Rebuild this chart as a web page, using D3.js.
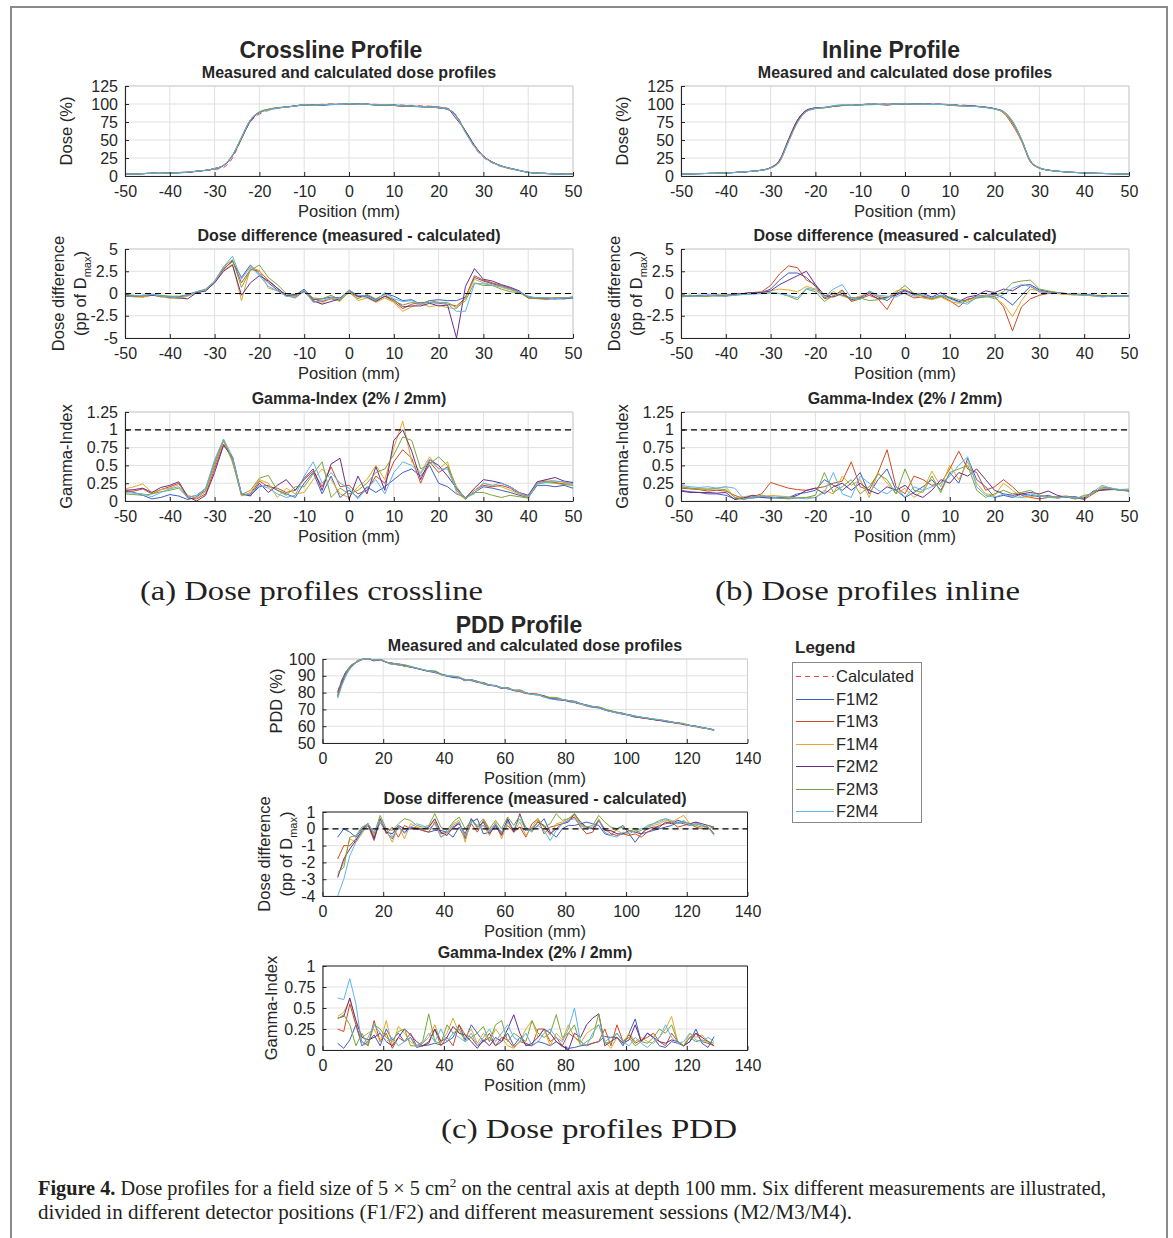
<!DOCTYPE html>
<html>
<head>
<meta charset="utf-8">
<script src="https://cdn.jsdelivr.net/npm/d3@7"></script>
<style>
  body { margin: 0; background: #fff; }
  svg text { font-family: "Liberation Sans", Arial, sans-serif; fill: #262626; }
  svg text.serif { font-family: "Liberation Serif", "Times New Roman", serif; fill: #231f20; }
</style>
</head>
<body>
<svg id="fig" width="1173" height="1238"></svg>
<script>
// ---- series ----
const seriesNames = ['F1M2', 'F1M3', 'F1M4', 'F2M2', 'F2M3', 'F2M4'];
const seriesColors = ['#3d5fc0', '#cf4a20', '#e2a925', '#6b2d8c', '#7ba53a', '#5db3ef'];
const calcColor = '#e8474a';

// ---- lateral profiles (positions in mm) ----
const profilePos = [-50, -48, -46, -44, -42, -40, -38, -36, -34, -32, -30, -28, -26, -24, -22, -20, -18, -16,
  -14, -12, -10, -8, -6, -4, -2, 0, 2, 4, 6, 8, 10, 12, 14, 16, 18, 20, 22, 24, 26, 28, 30, 32, 34, 36, 38,
  40, 42, 44, 46, 48, 50];

const crossCalc = [3, 3, 3.5, 4, 4, 4.5, 5, 5.5, 6.5, 7.5, 9, 12, 25, 52, 75, 86, 91, 94, 96, 97.5, 98.5,
  99, 99.5, 100, 100, 100, 100, 100, 99.5, 99, 99, 98.5, 98, 97.5, 97, 96, 94, 84, 62, 40, 26, 18, 13, 10,
  7.5, 5.5, 4.5, 4, 3.5, 3, 3];

// one row per position: F1M2, F1M3, F1M4, F2M2, F2M3, F2M4
const crossDiffRows = [
  [-0.2, -0.3, -0.2, -0.3, -0.1, -0.3], [-0.3, -0.3, -0.4, -0.3, -0.2, -0.3], [-0.3, -0.4, -0.4, -0.2, -0.3, -0.2],
  [-0.1, -0.2, -0.1, -0.2, -0.1, -0.1], [-0.3, -0.3, -0.4, -0.3, -0.2, -0.3], [-0.4, -0.5, -0.5, -0.4, -0.3, -0.4],
  [-0.4, -0.4, -0.6, -0.5, -0.3, -0.5], [-0.1, -0.2, -0.3, -0.6, -0.2, -0.2], [0.2, 0.1, 0.1, 0.1, 0.2, 0.2],
  [0.4, 0.3, 0.4, 0.3, 0.5, 0.4], [1.3, 1.2, 1.3, 1.2, 1.4, 1.3], [2.8, 2.7, 2.6, 2.5, 3.0, 3.0],
  [3.6, 3.7, 3.3, 3.2, 3.8, 4.2], [1.8, 1.2, -0.8, -0.2, 0.7, 1.6], [3.2, 2.7, 2.9, 1.2, 2.6, 3.0],
  [2.2, 2.5, 2.6, 2.0, 3.2, 2.0], [1.2, 1.5, 0.6, 1.4, 1.8, 0.8], [0.4, 0.6, 0.3, 0.6, 1.0, 0.3],
  [-0.3, -0.2, -0.3, -0.2, 0.0, -0.3], [-0.2, -0.5, -0.4, -0.1, -0.3, -0.4], [0.5, 0.3, 0.4, 0.2, 0.3, 0.4],
  [-0.7, -0.6, -0.9, -0.8, -0.5, -1.0], [-0.6, -0.9, -1.1, -1.2, -0.6, -0.8], [-0.4, -0.6, -0.5, -0.9, -0.2, -0.5],
  [-0.5, -0.8, -0.9, -0.6, -0.7, -0.6], [0.3, 0.2, 0.3, 0.4, 0.1, 0.4], [-0.3, -0.4, -0.8, -0.3, -0.6, -0.2],
  [-0.2, -0.3, -0.5, -0.4, -0.1, -0.3], [-0.7, -0.8, -1.0, -0.9, -0.6, -0.8], [0.0, -0.3, -0.5, -0.3, -0.1, 0.1],
  [-0.3, -0.9, -1.0, -0.7, -0.8, -0.6], [-0.8, -1.7, -2.0, -1.5, -1.3, -0.9], [-0.7, -1.2, -1.5, -1.4, -1.0, -0.8],
  [-1.2, -1.0, -1.1, -1.4, -1.2, -1.2], [-0.8, -1.0, -1.5, -1.1, -0.8, -1.0], [-0.7, -1.1, -1.3, -1.4, -1.0, -1.0],
  [-0.8, -1.2, -1.6, -1.3, -1.0, -1.2], [-0.8, -1.4, -1.7, -5.0, -1.6, -2.0], [-0.4, -0.5, -0.5, 0.8, -0.8, -2.0],
  [1.8, 2.0, 1.6, 2.8, 1.2, 1.1], [1.4, 1.5, 1.2, 1.6, 0.9, 1.1], [1.1, 1.2, 1.0, 1.4, 0.9, 0.9],
  [0.8, 0.9, 0.7, 1.0, 0.5, 0.8], [0.5, 0.6, 0.4, 0.7, 0.2, 0.5], [0.2, 0.2, 0.1, 0.3, 0.1, 0.2],
  [-0.4, -0.4, -0.5, -0.5, -0.4, -0.3], [-0.5, -0.5, -0.6, -0.5, -0.5, -0.5], [-0.5, -0.6, -0.7, -0.6, -0.5, -0.5],
  [-0.6, -0.5, -0.5, -0.6, -0.5, -0.6], [-0.5, -0.5, -0.6, -0.6, -0.5, -0.5], [-0.5, -0.4, -0.5, -0.5, -0.4, -0.5]
];

const crossGammaRows = [
  [0.15, 0.13, 0.17, 0.15, 0.10, 0.12], [0.12, 0.14, 0.20, 0.16, 0.09, 0.11], [0.08, 0.17, 0.24, 0.18, 0.08, 0.10],
  [0.03, 0.10, 0.12, 0.12, 0.10, 0.06], [0.05, 0.16, 0.16, 0.19, 0.13, 0.12], [0.09, 0.20, 0.18, 0.22, 0.15, 0.17],
  [0.07, 0.25, 0.23, 0.27, 0.18, 0.20], [0.02, 0.04, 0.08, 0.06, 0.05, 0.05], [0.06, 0.03, 0.04, 0.00, 0.08, 0.08],
  [0.15, 0.10, 0.13, 0.08, 0.17, 0.18], [0.50, 0.45, 0.52, 0.40, 0.55, 0.58], [0.85, 0.80, 0.84, 0.78, 0.86, 0.87],
  [0.55, 0.60, 0.55, 0.62, 0.58, 0.62], [0.10, 0.08, 0.07, 0.10, 0.09, 0.10], [0.08, 0.10, 0.12, 0.07, 0.15, 0.09],
  [0.20, 0.28, 0.30, 0.25, 0.32, 0.22], [0.22, 0.20, 0.25, 0.12, 0.36, 0.18], [0.15, 0.18, 0.05, 0.22, 0.15, 0.10],
  [0.10, 0.12, 0.18, 0.30, 0.08, 0.05], [0.05, 0.15, 0.10, 0.15, 0.20, 0.08], [0.25, 0.30, 0.12, 0.32, 0.20, 0.35],
  [0.40, 0.42, 0.30, 0.45, 0.38, 0.55], [0.10, 0.20, 0.45, 0.15, 0.55, 0.25], [0.35, 0.48, 0.30, 0.52, 0.05, 0.40],
  [0.05, 0.20, 0.10, 0.60, 0.18, 0.25], [0.15, 0.22, 0.05, 0.02, 0.10, 0.18], [0.05, 0.10, 0.20, 0.35, 0.15, 0.03],
  [0.20, 0.15, 0.30, 0.10, 0.25, 0.18], [0.12, 0.35, 0.50, 0.48, 0.40, 0.30], [0.20, 0.25, 0.30, 0.15, 0.45, 0.10],
  [0.30, 0.55, 0.75, 0.85, 0.65, 0.40], [0.40, 0.72, 1.12, 1.00, 0.90, 0.55], [0.45, 0.60, 0.55, 0.70, 0.85, 0.50],
  [0.35, 0.25, 0.40, 0.30, 0.45, 0.38], [0.50, 0.55, 0.62, 0.58, 0.52, 0.58], [0.25, 0.40, 0.45, 0.50, 0.62, 0.45],
  [0.20, 0.48, 0.55, 0.35, 0.50, 0.45], [0.10, 0.15, 0.12, 0.18, 0.20, 0.15], [0.05, 0.03, 0.02, 0.04, 0.03, 0.05],
  [0.12, 0.15, 0.15, 0.18, 0.12, 0.10], [0.20, 0.22, 0.25, 0.30, 0.12, 0.25], [0.18, 0.20, 0.22, 0.28, 0.08, 0.22],
  [0.15, 0.22, 0.20, 0.25, 0.05, 0.25], [0.12, 0.18, 0.15, 0.20, 0.08, 0.20], [0.08, 0.10, 0.10, 0.12, 0.06, 0.12],
  [0.05, 0.06, 0.05, 0.08, 0.04, 0.06], [0.22, 0.26, 0.25, 0.27, 0.24, 0.25], [0.22, 0.28, 0.30, 0.30, 0.26, 0.27],
  [0.20, 0.26, 0.28, 0.33, 0.25, 0.28], [0.22, 0.24, 0.26, 0.28, 0.23, 0.27], [0.18, 0.24, 0.25, 0.26, 0.22, 0.24]
];

const inlineCalc = [3, 3.2, 3.5, 3.8, 4.1, 4.5, 5, 5.7, 6.6, 8, 11, 20, 48, 75, 89, 93.5, 95.5, 97, 98, 98.8,
  99.3, 99.7, 100, 100, 100, 100, 100, 100, 100, 99.7, 99.3, 98.8, 98, 97, 95.5, 93.5, 89, 75, 50, 20, 11, 8,
  6.6, 5.7, 5, 4.5, 4.1, 3.8, 3.5, 3.2, 3];

const inlineDiffRows = [
  [-0.3, -0.3, -0.4, -0.3, -0.3, -0.3], [-0.3, -0.2, -0.3, -0.3, -0.2, -0.3], [-0.3, -0.3, -0.3, -0.2, -0.3, -0.3],
  [-0.2, -0.3, -0.2, -0.2, -0.3, -0.2], [-0.2, -0.2, -0.3, -0.2, -0.2, -0.3], [-0.2, -0.2, -0.2, -0.3, -0.2, -0.3],
  [-0.1, -0.1, -0.2, -0.1, -0.2, -0.2], [0.0, 0.0, -0.1, 0.0, 0.0, -0.1], [0.1, 0.1, 0.0, 0.1, 0.0, -0.1],
  [0.1, 0.2, 0.1, 0.1, 0.0, 0.0], [0.5, 0.9, 0.3, 0.3, 0.1, 0.1], [1.5, 2.2, 0.5, 1.0, 0.0, 0.0],
  [2.3, 3.1, 0.4, 1.5, -0.3, -0.2], [2.3, 2.9, 0.2, 2.0, -0.7, -0.5], [1.8, 1.5, 0.8, 2.5, 0.5, 0.6],
  [0.8, 1.0, 0.5, 1.0, 0.2, 0.4], [-0.5, -0.6, -0.3, -0.2, -0.9, -0.4], [0.0, -0.3, 0.2, -0.4, -0.2, 0.5],
  [-0.2, 0.4, -0.3, 0.0, 0.2, 1.0], [-0.5, -0.9, -0.6, -0.7, -0.8, -0.5], [-0.4, -0.6, -0.3, -0.5, -0.5, -0.7],
  [0.2, -0.2, 0.1, 0.0, -0.8, 0.3], [-0.4, -0.6, -0.3, -0.6, -0.7, -0.2], [-0.8, -1.8, -0.5, -0.4, -0.5, -0.3],
  [0.0, 0.0, 0.3, -0.2, 0.1, -0.4], [0.4, 0.0, 0.5, 0.3, 0.9, 0.1], [0.0, -0.5, -0.2, -0.1, 0.0, -0.3],
  [-0.3, -0.4, -0.5, 0.0, -0.2, -0.2], [-0.5, -0.6, -0.7, -0.4, -0.6, -0.5], [-0.2, -0.3, -0.4, 0.1, -0.3, -0.2],
  [-0.5, -0.8, -0.9, -0.5, -0.4, -0.6], [-0.9, -1.5, -1.1, -0.9, -0.7, -1.0], [-0.7, -0.6, -0.8, -0.4, -1.0, -1.2],
  [-0.3, -0.5, -0.4, -0.2, -0.5, -0.4], [-0.2, -0.3, -0.2, 0.3, -0.4, -0.3], [-0.1, -0.3, -0.5, 0.1, -0.3, -0.6],
  [-0.5, -1.5, -1.2, 0.5, 0.2, -0.1], [-1.3, -4.2, -2.6, 0.3, 1.2, 0.6], [-0.2, -1.5, -0.8, 0.9, 1.4, 1.0],
  [0.8, -0.6, 0.5, 1.0, 1.5, 0.8], [0.2, -0.2, 0.3, 0.4, 0.5, 0.3], [0.1, 0.0, 0.1, 0.2, 0.3, 0.1],
  [0.0, 0.0, 0.0, 0.1, 0.1, 0.0], [0.0, -0.1, -0.1, 0.0, 0.0, 0.0], [-0.1, -0.1, -0.2, -0.1, -0.1, -0.1],
  [-0.1, -0.1, -0.1, -0.2, -0.1, -0.2], [-0.2, -0.2, -0.2, -0.2, -0.3, -0.2], [-0.3, -0.3, -0.2, -0.3, -0.3, -0.4],
  [-0.3, -0.3, -0.3, -0.3, -0.2, -0.3], [-0.3, -0.3, -0.3, -0.3, -0.3, -0.3], [-0.3, -0.3, -0.3, -0.3, -0.3, -0.3]
];

const inlineGammaRows = [
  [0.15, 0.18, 0.20, 0.14, 0.20, 0.22], [0.13, 0.17, 0.18, 0.12, 0.18, 0.20], [0.12, 0.16, 0.17, 0.12, 0.17, 0.19],
  [0.10, 0.14, 0.16, 0.12, 0.17, 0.20], [0.10, 0.15, 0.18, 0.11, 0.17, 0.18], [0.08, 0.14, 0.20, 0.12, 0.16, 0.20],
  [0.03, 0.08, 0.05, 0.02, 0.05, 0.18], [0.05, 0.03, 0.06, 0.04, 0.02, 0.03], [0.04, 0.06, 0.08, 0.08, 0.05, 0.05],
  [0.06, 0.10, 0.05, 0.05, 0.08, 0.07], [0.05, 0.26, 0.08, 0.04, 0.06, 0.05], [0.04, 0.22, 0.07, 0.05, 0.04, 0.06],
  [0.05, 0.18, 0.06, 0.04, 0.03, 0.05], [0.10, 0.16, 0.05, 0.08, 0.04, 0.04], [0.12, 0.15, 0.05, 0.15, 0.05, 0.03],
  [0.15, 0.18, 0.05, 0.18, 0.08, 0.05], [0.30, 0.20, 0.15, 0.10, 0.40, 0.12], [0.22, 0.25, 0.10, 0.20, 0.12, 0.40],
  [0.15, 0.28, 0.35, 0.25, 0.20, 0.10], [0.25, 0.55, 0.22, 0.15, 0.30, 0.05], [0.40, 0.20, 0.30, 0.25, 0.10, 0.35],
  [0.10, 0.15, 0.05, 0.15, 0.20, 0.25], [0.30, 0.40, 0.40, 0.10, 0.38, 0.15], [0.45, 0.72, 0.25, 0.20, 0.30, 0.10],
  [0.15, 0.20, 0.10, 0.15, 0.10, 0.20], [0.05, 0.10, 0.18, 0.22, 0.45, 0.05], [0.12, 0.35, 0.05, 0.10, 0.15, 0.20],
  [0.20, 0.30, 0.15, 0.05, 0.12, 0.15], [0.30, 0.22, 0.42, 0.15, 0.35, 0.20], [0.15, 0.25, 0.20, 0.30, 0.12, 0.25],
  [0.40, 0.45, 0.50, 0.25, 0.40, 0.35], [0.25, 0.70, 0.30, 0.40, 0.45, 0.50], [0.60, 0.45, 0.55, 0.35, 0.50, 0.62],
  [0.30, 0.40, 0.25, 0.45, 0.15, 0.20], [0.20, 0.15, 0.10, 0.30, 0.05, 0.08], [0.05, 0.20, 0.08, 0.15, 0.10, 0.05],
  [0.08, 0.30, 0.25, 0.10, 0.15, 0.10], [0.05, 0.20, 0.15, 0.08, 0.10, 0.06], [0.10, 0.08, 0.05, 0.10, 0.12, 0.05],
  [0.08, 0.05, 0.06, 0.12, 0.15, 0.10], [0.06, 0.03, 0.08, 0.10, 0.08, 0.07], [0.08, 0.05, 0.06, 0.14, 0.06, 0.05],
  [0.04, 0.06, 0.05, 0.08, 0.05, 0.04], [0.06, 0.07, 0.05, 0.05, 0.06, 0.06], [0.03, 0.05, 0.04, 0.06, 0.03, 0.05],
  [0.05, 0.02, 0.06, 0.03, 0.08, 0.04], [0.12, 0.10, 0.12, 0.14, 0.10, 0.13], [0.16, 0.18, 0.18, 0.15, 0.20, 0.22],
  [0.17, 0.18, 0.18, 0.16, 0.17, 0.18], [0.15, 0.15, 0.16, 0.16, 0.15, 0.16], [0.14, 0.15, 0.17, 0.14, 0.15, 0.16]
];

// ---- PDD (depth in mm) ----
const pddPos = [5, 7, 9, 11, 13, 15, 17, 19, 21, 23, 25, 27, 29, 31, 33, 35, 37, 39, 41, 43,
  45, 47, 49, 51, 53, 55, 57, 59, 61, 63, 65, 67, 69, 71, 73, 75, 77, 79, 81, 83,
  85, 87, 89, 91, 93, 95, 97, 99, 101, 103, 105, 107, 109, 111, 113, 115, 117, 119, 121, 123,
  125, 127, 129];

const pddCalc = [80.5, 90.0, 95.5, 98.5, 99.8, 100.0, 99.6, 99.0, 98.3, 97.5,
  96.8, 96.0, 95.2, 94.4, 93.6, 92.8, 92.0, 91.1, 90.2, 89.4,
  88.6, 87.8, 87.0, 86.2, 85.4, 84.6, 83.8, 83.0, 82.2, 81.4,
  80.6, 79.9, 79.1, 78.4, 77.6, 76.9, 76.2, 75.5, 74.7, 73.9,
  73.1, 72.3, 71.5, 70.7, 69.9, 69.1, 68.3, 67.5, 66.8, 66.1,
  65.4, 64.7, 64.0, 63.4, 62.7, 62.1, 61.5, 60.9, 60.2, 59.6,
  59.0, 58.4, 57.8];

const pddDiffF1M2 = [-0.5, 0.0, -0.2, -0.5, 0.0, 0.3, -0.5, 0.4, -0.2, -0.6,
  0.1, -0.2, 0.1, 0.0, -0.1, -0.2, -0.1, -0.1, -0.2, -0.5,
  0.1, -0.6, 0.4, 0.6, -0.3, -0.2, 0.1, -0.2, 0.5, -0.1,
  0.1, -0.1, -0.1, 0.2, 0.6, -0.2, -0.5, 0.0, 0.2, 0.2,
  0.3, 0.4, 0.3, 0.2, -0.3, -0.4, 0.0, 0.2, -0.3, -0.8,
  -0.3, -0.2, -0.1, 0.0, 0.1, 0.2, 0.4, 0.3, 0.2, 0.3,
  0.2, 0.1, -0.3];
const pddDiffF1M3 = [-1.8, -1.0, -1.0, -0.6, -0.2, 0.2, -0.7, 0.6, -0.3, 0.1,
  -0.5, 0.2, 0.0, 0.1, -0.1, -0.2, 0.4, -0.3, -0.2, 0.0,
  0.4, -0.5, 0.3, -0.2, 0.5, -0.1, 0.3, -0.3, 0.2, -0.2,
  0.1, -0.5, 0.3, 0.6, -0.3, 0.1, 0.2, 0.3, 0.5, 0.7,
  0.1, -0.3, -0.2, 0.5, 0.0, -0.3, -0.4, -0.3, -0.4, -0.3,
  -0.5, -0.2, 0.0, 0.2, 0.3, 0.4, 0.1, 0.2, 0.3, 0.1,
  0.0, 0.1, -0.3];
const pddDiffF1M4 = [-2.8, -2.0, -0.6, -0.8, -0.3, 0.3, -0.4, 0.4, -0.1, -0.8,
  0.2, -0.6, 0.3, 0.1, 0.0, 0.1, 0.5, -0.5, -0.3, 0.3,
  0.5, -0.8, 0.6, 0.0, 0.2, -0.4, 0.4, -0.6, 0.4, -0.2,
  0.4, -0.4, 0.1, 0.6, 0.1, -0.4, 0.3, 0.4, 0.6, 0.8,
  0.2, 0.1, 0.0, 0.6, -0.1, -0.2, -0.1, -0.3, -0.2, 0.0,
  -0.3, 0.1, 0.2, 0.3, 0.5, 0.4, 0.6, 0.8, 0.3, 0.4,
  0.2, 0.0, 0.1];
const pddDiffF2M2 = [-2.9, -1.8, -1.2, -0.7, -0.1, 0.3, -0.6, 0.6, -0.2, -0.3,
  0.2, 0.0, 0.0, 0.0, 0.0, 0.1, 0.6, -0.2, -0.4, 0.1,
  0.3, -0.3, 0.6, 0.1, 0.4, -0.3, 0.2, -0.4, 0.6, -0.2,
  0.9, -0.1, 0.0, 0.4, 0.2, -0.3, 0.0, 0.3, 0.4, 0.9,
  0.4, 0.1, 0.0, 0.5, -0.1, -0.1, -0.3, -0.3, -0.1, -0.2,
  -0.3, 0.0, 0.1, 0.1, 0.4, 0.3, 0.5, 0.4, 0.3, 0.4,
  0.3, 0.2, 0.1];
const pddDiffF2M3 = [-2.6, -2.3, -0.5, -0.4, 0.1, 0.3, -0.3, 0.8, 0.0, -0.1,
  0.3, 0.6, 0.5, 0.2, 0.1, 0.2, 0.9, 0.1, -0.1, 0.4,
  0.7, 0.0, 0.5, 0.2, 0.6, 0.0, 0.5, 0.0, 0.7, 0.2,
  0.8, 0.1, -0.2, 0.5, 0.1, 0.3, 0.9, 0.5, 0.6, 0.9,
  0.3, 0.1, 0.2, 0.8, 0.4, 0.1, 0.0, 0.1, -0.1, -0.2,
  -0.1, 0.2, 0.3, 0.5, 0.6, 0.4, 0.3, 0.4, 0.3, 0.2,
  0.1, 0.2, 0.0];
const pddDiffF2M4 = [-4.0, -3.0, -1.6, -0.8, -0.2, 0.3, -0.2, 0.5, 0.0, -0.5,
  0.2, -0.3, 0.1, 0.3, 0.2, 0.0, 0.3, -0.5, -0.2, 0.2,
  0.4, -0.4, 0.5, 0.1, 0.2, -0.2, 0.3, -0.2, 0.4, 0.0,
  0.6, -0.1, -0.1, 0.2, -0.1, -0.7, -0.1, 0.3, 0.5, 0.6,
  0.2, 0.0, 0.1, 0.5, -0.2, -0.4, -0.5, -0.2, -0.3, -0.1,
  0.0, 0.1, 0.3, 0.4, 0.6, 0.5, 0.3, 0.5, 0.2, 0.3,
  0.2, 0.1, -0.4];

const pddGammaF1M2 = [0.08, 0.02, 0.12, 0.30, 0.05, 0.10, 0.18, 0.05, 0.25, 0.12,
  0.20, 0.10, 0.15, 0.03, 0.05, 0.06, 0.08, 0.06, 0.10, 0.15,
  0.30, 0.12, 0.30, 0.20, 0.10, 0.15, 0.05, 0.10, 0.20, 0.05,
  0.15, 0.06, 0.05, 0.10, 0.08, 0.05, 0.10, 0.04, 0.02, 0.03,
  0.05, 0.06, 0.08, 0.10, 0.16, 0.15, 0.15, 0.05, 0.20, 0.37,
  0.10, 0.20, 0.15, 0.05, 0.03, 0.10, 0.08, 0.05, 0.10, 0.25,
  0.08, 0.03, 0.16];
const pddGammaF1M3 = [0.25, 0.22, 0.55, 0.30, 0.10, 0.05, 0.35, 0.10, 0.20, 0.02,
  0.15, 0.10, 0.20, 0.05, 0.05, 0.10, 0.25, 0.05, 0.15, 0.05,
  0.30, 0.18, 0.15, 0.05, 0.10, 0.20, 0.05, 0.15, 0.12, 0.03,
  0.10, 0.08, 0.05, 0.25, 0.25, 0.10, 0.15, 0.05, 0.20, 0.15,
  0.10, 0.05, 0.08, 0.10, 0.25, 0.05, 0.30, 0.10, 0.18, 0.08,
  0.12, 0.15, 0.20, 0.10, 0.05, 0.20, 0.10, 0.05, 0.15, 0.20,
  0.10, 0.08, 0.05];
const pddGammaF1M4 = [0.40, 0.45, 0.60, 0.35, 0.15, 0.20, 0.25, 0.10, 0.35, 0.05,
  0.28, 0.20, 0.10, 0.05, 0.08, 0.15, 0.30, 0.10, 0.20, 0.38,
  0.20, 0.15, 0.25, 0.08, 0.20, 0.10, 0.25, 0.15, 0.05, 0.02,
  0.10, 0.25, 0.35, 0.15, 0.25, 0.05, 0.20, 0.12, 0.30, 0.15,
  0.08, 0.20, 0.25, 0.30, 0.10, 0.02, 0.15, 0.08, 0.20, 0.10,
  0.15, 0.10, 0.08, 0.15, 0.25, 0.40, 0.10, 0.05, 0.20, 0.15,
  0.18, 0.10, 0.05];
const pddGammaF2M2 = [0.38, 0.40, 0.62, 0.35, 0.15, 0.12, 0.15, 0.20, 0.10, 0.05,
  0.15, 0.25, 0.18, 0.10, 0.05, 0.08, 0.25, 0.10, 0.15, 0.28,
  0.20, 0.18, 0.10, 0.02, 0.12, 0.05, 0.15, 0.10, 0.25, 0.42,
  0.20, 0.05, 0.08, 0.15, 0.25, 0.20, 0.10, 0.05, 0.00, 0.20,
  0.15, 0.30, 0.38, 0.43, 0.05, 0.10, 0.15, 0.08, 0.12, 0.30,
  0.10, 0.20, 0.15, 0.10, 0.08, 0.12, 0.10, 0.05, 0.10, 0.20,
  0.15, 0.10, 0.05];
const pddGammaF2M3 = [0.37, 0.42, 0.30, 0.05, 0.20, 0.05, 0.30, 0.25, 0.15, 0.10,
  0.22, 0.25, 0.05, 0.05, 0.10, 0.43, 0.10, 0.08, 0.30, 0.20,
  0.25, 0.10, 0.15, 0.20, 0.28, 0.10, 0.30, 0.35, 0.10, 0.20,
  0.15, 0.10, 0.35, 0.20, 0.15, 0.20, 0.42, 0.15, 0.20, 0.30,
  0.05, 0.10, 0.15, 0.43, 0.08, 0.10, 0.20, 0.10, 0.15, 0.05,
  0.10, 0.08, 0.15, 0.25, 0.20, 0.30, 0.10, 0.05, 0.15, 0.10,
  0.12, 0.10, 0.08];
const pddGammaF2M4 = [0.62, 0.60, 0.85, 0.55, 0.05, 0.15, 0.30, 0.20, 0.10, 0.15,
  0.05, 0.10, 0.15, 0.05, 0.08, 0.20, 0.10, 0.25, 0.10, 0.20,
  0.15, 0.10, 0.20, 0.05, 0.15, 0.25, 0.10, 0.20, 0.30, 0.15,
  0.10, 0.20, 0.05, 0.10, 0.20, 0.25, 0.15, 0.10, 0.25, 0.50,
  0.10, 0.05, 0.20, 0.30, 0.10, 0.15, 0.20, 0.10, 0.05, 0.15,
  0.08, 0.03, 0.10, 0.15, 0.30, 0.15, 0.08, 0.10, 0.20, 0.12,
  0.10, 0.15, 0.10];

// ---- ticks ----
const profileXTicks = [-50, -40, -30, -20, -10, 0, 10, 20, 30, 40, 50];
const pddXTicks = [0, 20, 40, 60, 80, 100, 120, 140];
const doseYTicks = [0, 25, 50, 75, 100, 125];
const diffYTicks = [-5, -2.5, 0, 2.5, 5];
const gammaYTicks = [0, 0.25, 0.5, 0.75, 1, 1.25];
const pddYTicks = [50, 60, 70, 80, 90, 100];
const pddDiffYTicks = [-4, -3, -2, -1, 0, 1];
const pddGammaYTicks = [0, 0.25, 0.5, 0.75, 1];

// ---- helpers to build point lists ----
const pts = (xs, ys) => xs.slice(0, Math.min(xs.length, ys.length)).map((x, i) => [x, ys[i]]);
const fromRows = (xs, rows) => seriesNames.map((_, k) => pts(xs, rows.map(r => r[k])));
const measured = (xs, calc, diffSeries) => diffSeries.map(s => s.map((p, i) => [p[0], calc[i] + p[1]]));

const crossDiff = fromRows(profilePos, crossDiffRows);
const inlineDiff = fromRows(profilePos, inlineDiffRows);
const pddDiff = [pddDiffF1M2, pddDiffF1M3, pddDiffF1M4, pddDiffF2M2, pddDiffF2M3, pddDiffF2M4].map(d => pts(pddPos, d));
const pddGamma = [pddGammaF1M2, pddGammaF1M3, pddGammaF1M4, pddGammaF2M2, pddGammaF2M3, pddGammaF2M4].map(d => pts(pddPos, d));

const svg = d3.select('#fig');

// figure frame
svg.append('rect')
  .attr('x', 11).attr('y', 7).attr('width', 1156).attr('height', 1260)
  .attr('fill', 'none').attr('stroke', '#8a8a8a').attr('stroke-width', 2);

let clipCount = 0;

function dmaxLabel(t) {
  t.append('tspan').text('(pp of D');
  t.append('tspan').attr('font-size', 11).attr('dy', 5).text('max');
  t.append('tspan').attr('dy', -5).text(')');
}

function drawPanel(cfg) {
  const g = svg.append('g');
  const x = d3.scaleLinear().domain(cfg.xDomain).range([cfg.left, cfg.right]);
  const y = d3.scaleLinear().domain(cfg.yDomain).range([cfg.bottom, cfg.top]);

  // grid
  g.append('g').selectAll('line').data(cfg.xTicks).join('line')
    .attr('x1', d => x(d)).attr('x2', d => x(d))
    .attr('y1', cfg.top).attr('y2', cfg.bottom)
    .attr('stroke', '#e1e1e1');
  g.append('g').selectAll('line').data(cfg.yTicks).join('line')
    .attr('x1', cfg.left).attr('x2', cfg.right)
    .attr('y1', d => y(d)).attr('y2', d => y(d))
    .attr('stroke', '#e1e1e1');

  // top / right edges
  g.append('path')
    .attr('d', `M${cfg.left},${cfg.top}H${cfg.right}V${cfg.bottom}`)
    .attr('fill', 'none')
    .attr('stroke', cfg.boxBlack ? '#262626' : '#cfcfcf');

  const id = 'clip' + (clipCount++);
  svg.append('clipPath').attr('id', id).append('rect')
    .attr('x', cfg.left).attr('y', cfg.top - 1)
    .attr('width', cfg.right - cfg.left).attr('height', cfg.bottom - cfg.top + 2);
  const plot = g.append('g').attr('clip-path', `url(#${id})`);

  const line = d3.line().x(d => x(d[0])).y(d => y(d[1])).curve(cfg.curve || d3.curveLinear);

  if (cfg.calc) {
    plot.append('path').datum(cfg.calc).attr('d', line)
      .attr('fill', 'none').attr('stroke', calcColor)
      .attr('stroke-width', 1).attr('stroke-dasharray', '5,4');
  }
  cfg.series.forEach((s, i) => {
    plot.append('path').datum(s).attr('d', line)
      .attr('fill', 'none').attr('stroke', seriesColors[i])
      .attr('stroke-width', 1).attr('stroke-linejoin', 'round');
  });
  if (cfg.refLine !== undefined) {
    plot.append('line')
      .attr('x1', cfg.left).attr('x2', cfg.right)
      .attr('y1', y(cfg.refLine)).attr('y2', y(cfg.refLine))
      .attr('stroke', '#000').attr('stroke-width', 1.2).attr('stroke-dasharray', '6,4');
  }

  // axes
  const xAxis = g.append('g')
    .attr('transform', `translate(0,${cfg.bottom})`)
    .call(d3.axisBottom(x).tickValues(cfg.xTicks).tickFormat(d => String(d))
      .tickSizeInner(-4).tickSizeOuter(0).tickPadding(10));
  const yAxis = g.append('g')
    .attr('transform', `translate(${cfg.left},0)`)
    .call(d3.axisLeft(y).tickValues(cfg.yTicks).tickFormat(d => String(d))
      .tickSizeInner(-4).tickSizeOuter(0).tickPadding(7));
  [xAxis, yAxis].forEach(a => {
    a.attr('color', '#262626').attr('font-size', 16).attr('font-family', null);
    a.select('.domain').attr('stroke-width', 1.1);
  });

  const cx = (cfg.left + cfg.right) / 2;
  g.append('text').attr('x', cx).attr('y', cfg.top - 8)
    .attr('text-anchor', 'middle').attr('font-weight', 'bold').attr('font-size', 16)
    .text(cfg.title);
  g.append('text').attr('x', cx).attr('y', cfg.bottom + 41)
    .attr('text-anchor', 'middle').attr('font-size', 16.5)
    .text('Position (mm)');

  const cy = (cfg.top + cfg.bottom) / 2;
  cfg.ylabel.forEach((lab, k) => {
    const t = g.append('text')
      .attr('transform', `translate(${cfg.ylabelX[k]},${cy}) rotate(-90)`)
      .attr('text-anchor', 'middle').attr('dy', '0.35em').attr('font-size', 16.5);
    if (typeof lab === 'string') t.text(lab); else lab(t);
  });
}

function profileGroup(opts) {
  const L = opts.left, R = opts.left + 448;
  svg.append('text').attr('x', opts.titleX).attr('y', 57.5)
    .attr('text-anchor', 'middle').attr('font-weight', 'bold').attr('font-size', 23)
    .text(opts.name);
  drawPanel({
    left: L, right: R, top: 86, bottom: 176,
    xDomain: [-50, 50], yDomain: [0, 125], xTicks: profileXTicks, yTicks: doseYTicks,
    title: 'Measured and calculated dose profiles',
    ylabel: ['Dose (%)'], ylabelX: [L - 59],
    calc: pts(profilePos, opts.calc),
    series: measured(profilePos, opts.calc, opts.diff),
    curve: d3.curveMonotoneX
  });
  drawPanel({
    left: L, right: R, top: 249, bottom: 338,
    xDomain: [-50, 50], yDomain: [-5, 5], xTicks: profileXTicks, yTicks: diffYTicks,
    title: 'Dose difference (measured - calculated)',
    ylabel: ['Dose difference', dmaxLabel], ylabelX: [L - 67, L - 45],
    series: opts.diff, refLine: 0
  });
  drawPanel({
    left: L, right: R, top: 412, bottom: 501,
    xDomain: [-50, 50], yDomain: [0, 1.25], xTicks: profileXTicks, yTicks: gammaYTicks,
    title: 'Gamma-Index (2% / 2mm)',
    ylabel: ['Gamma-Index'], ylabelX: [L - 59],
    series: opts.gamma, refLine: 1
  });
  svg.append('text').attr('class', 'serif')
    .attr('x', opts.captionX).attr('y', 600)
    .attr('text-anchor', 'middle').attr('font-size', 27)
    .attr('textLength', opts.captionW).attr('lengthAdjust', 'spacingAndGlyphs')
    .text(opts.caption);
}

profileGroup({
  name: 'Crossline Profile', left: 125, titleX: 331,
  calc: crossCalc, diff: crossDiff, gamma: fromRows(profilePos, crossGammaRows),
  caption: '(a) Dose profiles crossline', captionX: 311.5, captionW: 343
});
profileGroup({
  name: 'Inline Profile', left: 681, titleX: 891,
  calc: inlineCalc, diff: inlineDiff, gamma: fromRows(profilePos, inlineGammaRows),
  caption: '(b) Dose profiles inline', captionX: 867.5, captionW: 305
});

// ---- PDD group ----
const pL = 322.5, pR = 747.5;
svg.append('text').attr('x', 519).attr('y', 633)
  .attr('text-anchor', 'middle').attr('font-weight', 'bold').attr('font-size', 23)
  .text('PDD Profile');
drawPanel({
  left: pL, right: pR, top: 659, bottom: 743,
  xDomain: [0, 140], yDomain: [50, 100], xTicks: pddXTicks, yTicks: pddYTicks,
  title: 'Measured and calculated dose profiles',
  ylabel: ['PDD (%)'], ylabelX: [276],
  calc: pts(pddPos, pddCalc),
  series: measured(pddPos, pddCalc, pddDiff),
  curve: d3.curveMonotoneX
});
drawPanel({
  left: pL, right: pR, top: 812, bottom: 896,
  xDomain: [0, 140], yDomain: [-4, 1], xTicks: pddXTicks, yTicks: pddDiffYTicks,
  title: 'Dose difference (measured - calculated)',
  ylabel: ['Dose difference', dmaxLabel], ylabelX: [264, 286],
  series: pddDiff, refLine: 0, boxBlack: true
});
drawPanel({
  left: pL, right: pR, top: 966, bottom: 1050,
  xDomain: [0, 140], yDomain: [0, 1], xTicks: pddXTicks, yTicks: pddGammaYTicks,
  title: 'Gamma-Index (2% / 2mm)',
  ylabel: ['Gamma-Index'], ylabelX: [271],
  series: pddGamma, boxBlack: true
});
svg.append('text').attr('class', 'serif')
  .attr('x', 589).attr('y', 1138)
  .attr('text-anchor', 'middle').attr('font-size', 27)
  .attr('textLength', 296).attr('lengthAdjust', 'spacingAndGlyphs')
  .text('(c) Dose profiles PDD');

// ---- legend ----
const lg = svg.append('g');
lg.append('text').attr('x', 795).attr('y', 653)
  .attr('font-weight', 'bold').attr('font-size', 17).text('Legend');
lg.append('rect').attr('x', 792.5).attr('y', 662.5).attr('width', 129).attr('height', 160)
  .attr('fill', '#fff').attr('stroke', '#8a8a8a');
const legendItems = [{ name: 'Calculated', color: calcColor, dash: '5,4' }]
  .concat(seriesNames.map((n, i) => ({ name: n, color: seriesColors[i], dash: null })));
legendItems.forEach((it, i) => {
  const yy = Math.round(676 + i * 22.5) + 0.5;
  lg.append('line').attr('x1', 796).attr('x2', 834).attr('y1', yy).attr('y2', yy)
    .attr('stroke', it.color).attr('stroke-width', 1.2)
    .attr('stroke-dasharray', it.dash);
  lg.append('text').attr('x', 836).attr('y', yy).attr('dy', '0.36em')
    .attr('font-size', 16.5).text(it.name);
});

// ---- figure caption ----
const cap1 = svg.append('text').attr('class', 'serif')
  .attr('x', 38).attr('y', 1195).attr('font-size', 20)
  .attr('textLength', 1068).attr('lengthAdjust', 'spacingAndGlyphs');
cap1.append('tspan').attr('font-weight', 'bold').text('Figure 4.');
cap1.append('tspan').text(' Dose profiles for a field size of 5 \u00d7 5 cm');
cap1.append('tspan').attr('font-size', 13).attr('dy', -8).text('2');
cap1.append('tspan').attr('dy', 8).text(' on the central axis at depth 100 mm. Six different measurements are illustrated,');
svg.append('text').attr('class', 'serif')
  .attr('x', 38).attr('y', 1219).attr('font-size', 20)
  .attr('textLength', 814).attr('lengthAdjust', 'spacingAndGlyphs')
  .text('divided in different detector positions (F1/F2) and different measurement sessions (M2/M3/M4).');
</script>
</body>
</html>
